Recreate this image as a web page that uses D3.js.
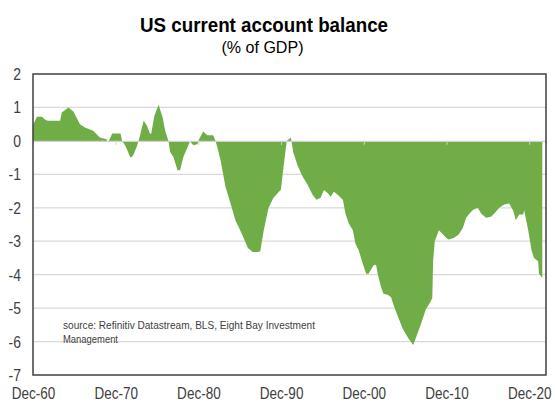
<!DOCTYPE html>
<html>
<head>
<meta charset="utf-8">
<script src="https://cdn.jsdelivr.net/npm/d3@7"></script>
<style>
  body { margin: 0; background: #fff; }
  text { font-family: "Liberation Sans", Arial, sans-serif; }
</style>
</head>
<body>
<div id="chart"></div>
<script>
// decimal years
const dates = [
  1960.9, 1961.4, 1962.0, 1962.4, 1962.7, 1964.2, 1964.4, 1965.2, 1965.8, 1966.6,
  1967.2, 1968.2, 1969.0, 1969.8, 1970.0, 1970.5, 1971.5, 1971.7, 1972.1, 1972.7,
  1973.0, 1973.5, 1973.8, 1974.3, 1974.7, 1975.0, 1975.2, 1975.6, 1976.1, 1976.6,
  1976.9, 1977.3, 1977.5, 1977.9, 1978.4, 1978.7, 1979.1, 1979.6, 1979.9, 1980.3,
  1980.8, 1981.0, 1981.5, 1982.0, 1982.7, 1983.0, 1983.2, 1983.6, 1983.9, 1984.2,
  1984.6, 1985.0, 1985.4, 1985.8, 1986.3, 1986.9, 1987.5, 1988.1, 1988.4, 1988.8,
  1989.4, 1990.0, 1990.9, 1991.2, 1991.6, 1992.1, 1992.4, 1992.9, 1993.3, 1993.6,
  1994.1, 1994.7, 1995.2, 1995.7, 1996.1, 1996.6, 1996.9, 1997.3, 1997.8, 1998.4,
  1998.7, 1999.1, 1999.6, 1999.9, 2000.3, 2000.8, 2001.2, 2001.5, 2002.1, 2002.4,
  2002.6, 2003.0, 2003.3, 2003.8, 2004.2, 2004.6, 2005.0, 2005.6, 2006.3, 2006.9,
  2007.2, 2007.8, 2008.4, 2009.0, 2009.2, 2009.3, 2009.5, 2010.0, 2010.5, 2010.9,
  2011.2, 2011.8, 2012.4, 2012.9, 2013.3, 2013.6, 2014.1, 2014.7, 2015.1, 2015.7,
  2016.3, 2016.7, 2017.3, 2017.9, 2018.5, 2019.0, 2019.3, 2019.7, 2020.2, 2020.3,
  2020.8, 2021.2, 2021.5, 2022.0, 2022.1, 2022.5
];
// current account balance, % of GDP
const balance = [
  0.47, 0.72, 0.72, 0.63, 0.6, 0.6, 0.85, 1.0, 0.88, 0.5,
  0.4, 0.3, 0.1, 0.05, -0.05, 0.22, 0.22, 0, -0.15, -0.5,
  -0.45, -0.15, 0.1, 0.6, 0.45, 0.25, 0.2, 0.75, 1.08, 0.7,
  0.3, 0, -0.33, -0.48, -0.88, -0.88, -0.48, -0.2, 0, -0.13,
  -0.1, 0.05, 0.28, 0.17, 0.17, 0, -0.18, -0.58, -0.98, -1.38,
  -1.7, -2.04, -2.38, -2.58, -2.85, -3.2, -3.32, -3.32, -3.3, -2.7,
  -2.0, -1.7, -1.45, -0.8, 0, 0.1, -0.35, -0.73, -0.95, -1.1,
  -1.3, -1.6, -1.76, -1.7, -1.47, -1.57, -1.67, -1.52, -1.62, -1.77,
  -2.17, -2.47, -2.67, -3.07, -3.27, -3.67, -3.97, -3.97, -3.72, -3.7,
  -3.97, -4.37, -4.57, -4.6, -4.67, -4.97, -5.22, -5.6, -5.9, -6.1,
  -5.9, -5.5, -5.05, -4.8, -4.7, -3.6, -3.0, -2.67, -2.8, -2.9,
  -2.95, -2.9, -2.8, -2.6, -2.3, -2.2, -2.07, -2.0, -2.17, -2.3,
  -2.27, -2.17, -2.0, -1.9, -1.87, -2.1, -2.37, -2.2, -2.2, -2.07,
  -2.67, -3.27, -3.5, -3.6, -3.97, -4.1
];
const yTicks = [2, 1, 0, -1, -2, -3, -4, -5, -6, -7];
const xTicks = [1960.92, 1970.92, 1980.92, 1990.92, 2000.92, 2010.92, 2020.92];
const xTickLabels = ["Dec-60", "Dec-70", "Dec-80", "Dec-90", "Dec-00", "Dec-10", "Dec-20"];

const width = 555, height = 404;
const margin = {top: 74, right: 9, bottom: 29, left: 33};
const w = width - margin.left - margin.right, h = height - margin.top - margin.bottom;

const data = dates.map((d, i) => ({date: d, value: balance[i]}));

// squeeze text a bit, the original uses a narrow face
function narrow(sel, k) {
  sel.each(function () {
    const len = this.getComputedTextLength();
    d3.select(this).attr('textLength', len * k).attr('lengthAdjust', 'spacingAndGlyphs');
  });
}

const svg = d3.select('#chart').append('svg')
  .attr('width', width)
  .attr('height', height);

// titles
svg.append('text')
  .attr('x', 264).attr('y', 32)
  .attr('text-anchor', 'middle')
  .attr('font-size', 21).attr('font-weight', 'bold')
  .attr('fill', '#000')
  .text('US current account balance')
  .attr('textLength', 248).attr('lengthAdjust', 'spacingAndGlyphs');
svg.append('text')
  .attr('x', 262.5).attr('y', 53)
  .attr('text-anchor', 'middle')
  .attr('font-size', 16)
  .attr('fill', '#000')
  .text('(%  of GDP)')
  .attr('textLength', 82).attr('lengthAdjust', 'spacingAndGlyphs');

const g = svg.append('g').attr('transform', `translate(${margin.left},${margin.top})`);

const x = d3.scaleLinear().domain([1960.92, 2022.95]).range([0, w]);
const y = d3.scaleLinear().domain([-7, 2]).range([h, 0]);

// gridlines
g.append('g')
  .selectAll('line')
  .data(yTicks.filter(d => d !== 2 && d !== -7 && d !== 0))
  .enter().append('line')
  .attr('x1', 0).attr('x2', w)
  .attr('y1', d => y(d)).attr('y2', d => y(d))
  .attr('stroke', '#d9d9d9').attr('stroke-width', 1.2);

// area
const area = d3.area()
  .x(d => x(d.date))
  .y0(y(0))
  .y1(d => y(d.value));
g.append('path')
  .datum(data)
  .attr('d', area)
  .attr('fill', '#70ad47');

// zero axis with ticks
const zeroAxis = d3.axisBottom(x).tickValues(xTicks).tickSize(4).tickFormat('');
g.append('g')
  .attr('transform', `translate(0,${y(0)})`)
  .call(zeroAxis)
  .call(s => s.select('.domain').attr('stroke', '#d0d0d0').attr('stroke-width', 1.2))
  .call(s => s.selectAll('.tick line').attr('stroke', '#d0d0d0'));

// plot border
g.append('rect')
  .attr('x', 0).attr('y', 0).attr('width', w).attr('height', h)
  .attr('fill', 'none').attr('stroke', '#404040').attr('stroke-width', 1.5);

// y labels
const yAxis = d3.axisLeft(y).tickValues(yTicks).tickSize(0).tickPadding(12).tickFormat(d => String(d));
g.append('g')
  .call(yAxis)
  .call(s => s.select('.domain').remove())
  .call(s => s.selectAll('text')
    .attr('font-size', 17)
    .attr('fill', '#404040')
    .style('font-family', '"Liberation Sans", Arial, sans-serif')
    .call(narrow, 0.82));

// x labels, squeezed horizontally by a scale on each tick
const xAxis = d3.axisBottom(x).tickValues(xTicks).tickSize(0).tickPadding(12)
  .tickFormat((d, i) => xTickLabels[i]);
g.append('g')
  .attr('transform', `translate(0,${h})`)
  .call(xAxis)
  .call(s => s.select('.domain').remove())
  .call(s => s.selectAll('text')
    .attr('font-size', 16.5)
    .attr('fill', '#404040')
    .attr('transform', 'scale(0.82,1)')
    .style('font-family', '"Liberation Sans", Arial, sans-serif'));

// source note
const note = g.append('text')
  .attr('x', 30).attr('y', y(-5.5) + 4)
  .attr('font-size', 10.5)
  .attr('fill', '#404040');
note.append('tspan').attr('x', 30)
  .text('source:  Refinitiv Datastream, BLS, Eight Bay Investment')
  .attr('textLength', 252).attr('lengthAdjust', 'spacingAndGlyphs');
note.append('tspan').attr('x', 30).attr('dy', 14)
  .text('Management')
  .attr('textLength', 55).attr('lengthAdjust', 'spacingAndGlyphs');
</script>
</body>
</html>
